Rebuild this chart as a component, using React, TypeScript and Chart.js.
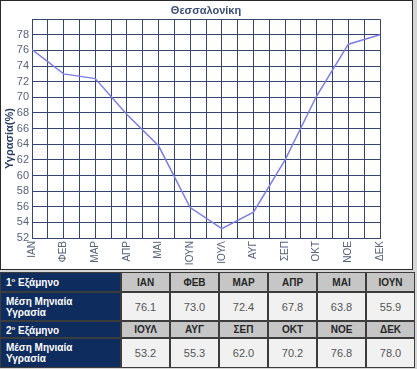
import { useEffect, useRef } from 'react';
import { Chart, registerables } from 'chart.js';

Chart.register(...registerables);

const chartTitle = 'Θεσσαλονίκη';
const yAxisTitle = 'Υγρασία(%)';
const months = ['ΙΑΝ', 'ΦΕΒ', 'ΜΑΡ', 'ΑΠΡ', 'ΜΑΙ', 'ΙΟΥΝ', 'ΙΟΥΛ', 'ΑΥΓ', 'ΣΕΠ', 'ΟΚΤ', 'ΝΟΕ', 'ΔΕΚ'];
const humidity = [76.1, 73.0, 72.4, 67.8, 63.8, 55.9, 53.2, 55.3, 62.0, 70.2, 76.8, 78.0];
const yMin = 52;
const yMax = 80;
const yStep = 2;
const semesterLabels = ['1', '2'];
const semesterWord = 'Εξάμηνο';
const rowLabelLines = ['Μέση Μηνιαία', 'Υγρασία'];

const FONT = '"Liberation Sans", Arial, sans-serif';
const GRID = '#34466e';
const TICK = '#56627e';

const yTitlePlugin = {
  id: 'yTitleOffset',
  afterDraw(chart: any) {
    const ctx = chart.ctx as CanvasRenderingContext2D;
    const area = chart.chartArea;
    ctx.save();
    ctx.translate(9, (area.top + area.bottom) / 2 + 10);
    ctx.rotate(-Math.PI / 2);
    ctx.font = `bold 11px ${FONT}`;
    ctx.fillStyle = '#2b3c64';
    ctx.textAlign = 'center';
    ctx.textBaseline = 'middle';
    ctx.fillText(yAxisTitle, 0, 0);
    ctx.restore();
  },
};

function ChartBox() {
  const ref = useRef<HTMLCanvasElement | null>(null);
  useEffect(() => {
    if (!ref.current) return;
    const chart = new Chart(ref.current, {
      type: 'line',
      data: {
        datasets: [
          {
            data: humidity.map((y, i) => ({ x: i, y })),
            borderColor: '#7d7de8',
            borderWidth: 1.5,
            pointRadius: 0,
            fill: false,
            tension: 0,
          },
        ],
      },
      plugins: [yTitlePlugin],
      options: {
        animation: false,
        responsive: false,
        maintainAspectRatio: false,
        layout: { padding: { left: 0, right: 32, top: 0, bottom: 0 } },
        plugins: {
          legend: { display: false },
          tooltip: { enabled: false },
          title: {
            display: true,
            text: chartTitle,
            fullSize: false,
            color: '#3a4d75',
            font: { family: FONT, size: 11, weight: 'bold' },
            padding: { top: 3, bottom: 2 },
          },
        },
        scales: {
          x: {
            type: 'linear',
            min: 0,
            max: months.length - 1,
            afterFit: (s: any) => {
              s.height = 31;
            },
            ticks: {
              stepSize: 0.5,
              autoSkip: false,
              maxRotation: 90,
              minRotation: 90,
              padding: 3,
              color: TICK,
              font: { family: FONT, size: 10 },
              callback: (v: any) => (Number.isInteger(v) ? months[v] : ''),
            },
            grid: { color: GRID, drawTicks: false, lineWidth: 1 },
            border: { color: GRID },
          },
          y: {
            min: yMin,
            max: yMax,
            afterFit: (s: any) => {
              s.width = 31;
            },
            ticks: {
              stepSize: yStep,
              autoSkip: false,
              padding: 3,
              color: TICK,
              font: { family: FONT, size: 11 },
              callback: (v: any) => (v === yMax ? '' : String(v)),
            },
            grid: { color: GRID, drawTicks: false, lineWidth: 1 },
            border: { color: GRID },
          },
        },
      },
    } as any);
    return () => chart.destroy();
  }, []);
  return <canvas ref={ref} width={411} height={268} style={{ display: 'block', width: 411, height: 268 }} />;
}

const headCell: React.CSSProperties = {
  background: '#c6c6c6',
  color: '#262626',
  fontWeight: 'bold',
  fontSize: 10,
  display: 'flex',
  alignItems: 'center',
  justifyContent: 'center',
};
const valCell: React.CSSProperties = {
  background: '#f1f1f1',
  color: '#555',
  fontSize: 11,
  display: 'flex',
  alignItems: 'center',
  justifyContent: 'center',
};
const leftCell: React.CSSProperties = {
  background: '#0f2c5f',
  color: '#fff',
  fontWeight: 'bold',
  fontSize: 10,
  display: 'flex',
  flexDirection: 'column',
  justifyContent: 'center',
  paddingLeft: 5,
  lineHeight: '11px',
};

export default function App() {
  const halves = [0, 1];
  return (
    <div
      style={{
        position: 'fixed',
        left: 0,
        top: 0,
        width: 417,
        height: 369,
        background: '#d6d6d6',
        fontFamily: FONT,
        overflow: 'hidden',
      }}
    >
      <div
        style={{
          position: 'absolute',
          left: 0,
          top: 0,
          width: 411,
          height: 268,
          border: '1px solid #2a2a2a',
          background: '#fff',
        }}
      >
        <ChartBox />
      </div>
      <div
        style={{
          position: 'absolute',
          left: 0,
          top: 272,
          width: 415,
          height: 96,
          boxSizing: 'border-box',
          padding: 1,
          background: '#3c3c3c',
          display: 'grid',
          gridTemplateColumns: '119px repeat(6, 47px)',
          gridTemplateRows: '18px 27px 15px 28px',
          columnGap: 2,
          rowGap: 2,
        }}
      >
        {halves.map((h) => [
          <div key={'l' + h} style={leftCell}>
            <span>
              {semesterLabels[h]}
              <sup style={{ fontSize: 6 }}>ο</sup> {semesterWord}
            </span>
          </div>,
          ...months.slice(h * 6, h * 6 + 6).map((m) => (
            <div key={'m' + m} style={headCell}>
              {m}
            </div>
          )),
          <div key={'r' + h} style={leftCell}>
            <span>{rowLabelLines[0]}</span>
            <span>{rowLabelLines[1]}</span>
          </div>,
          ...humidity.slice(h * 6, h * 6 + 6).map((v, i) => (
            <div key={'v' + h + i} style={valCell}>
              {v.toFixed(1)}
            </div>
          )),
        ])}
      </div>
    </div>
  );
}
